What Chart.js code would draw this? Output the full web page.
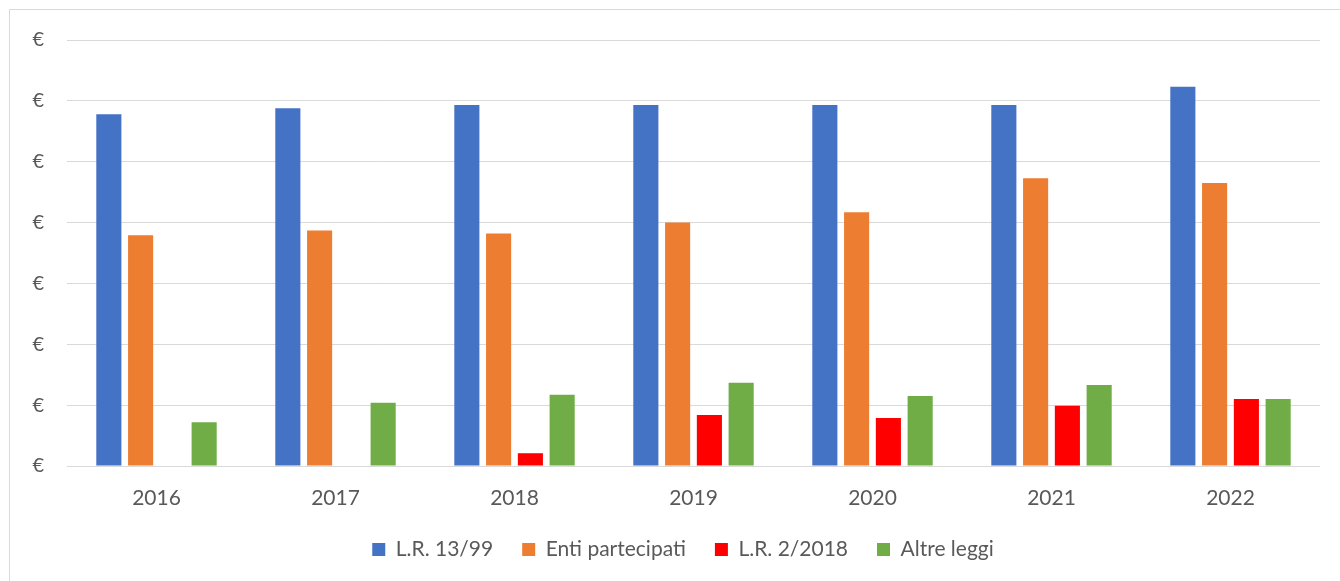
<!DOCTYPE html>
<html><head><meta charset="utf-8">
<script src="https://cdn.jsdelivr.net/npm/chart.js@4/dist/chart.umd.min.js"></script>
<style>html,body{margin:0;padding:0;background:#fff;}#wrap{position:relative;width:1340px;height:581px;}</style>
</head><body><div id="wrap"><canvas id="c" width="1340" height="581"></canvas></div>
<script>
const categories = ['2016','2017','2018','2019','2020','2021','2022'];
const lr1399 = [5.78, 5.88, 5.93, 5.93, 5.93, 5.93, 6.23];
const entiPartecipati = [3.79, 3.87, 3.82, 4.00, 4.17, 4.73, 4.65];
const lr22018 = [null, null, 0.21, 0.84, 0.79, 0.99, 1.10];
const altreLeggi = [0.72, 1.04, 1.17, 1.37, 1.15, 1.33, 1.10];
const yTicks = [0,1,2,3,4,5,6,7];
const tickLabel = '€';

const FONT = 'Lato, "Open Sans", sans-serif';
const TXT = '#595959';

const borderPlugin = {
  id: 'frame',
  beforeDraw(chart) {
    const ctx = chart.ctx;
    ctx.save();
    ctx.fillStyle = '#fff';
    ctx.fillRect(0,0,chart.width,chart.height);
    ctx.strokeStyle = '#d9d9d9';
    ctx.lineWidth = 1;
    ctx.beginPath();
    ctx.moveTo(9.5, 600); ctx.lineTo(9.5, 9.5); ctx.lineTo(1400, 9.5);
    ctx.stroke();
    ctx.restore();
  }
};

const legendShift = {
  id: 'legendShift',
  afterLayout(chart) {
    if (chart.legend) { chart.legend.left += 23; chart.legend.right += 23; }
  }
};

const mk = (label, data, color) => ({label, data, backgroundColor: color, borderColor: color, borderWidth: 0,
  categoryPercentage: 0.71, barPercentage: 0.79});

new Chart(document.getElementById('c'), {
  type: 'bar',
  data: {
    labels: categories,
    datasets: [
      mk('L.R. 13/99', lr1399, '#4472C4'),
      mk('Enti partecipati', entiPartecipati, '#ED7D31'),
      mk('L.R. 2/2018', lr22018, '#FF0000'),
      mk('Altre leggi', altreLeggi, '#70AD47')
    ]
  },
  options: {
    responsive: false,
    animation: false,
    devicePixelRatio: 1,
    layout: {padding: {top: 40, right: 20, left: 0, bottom: 11}},
    plugins: {
      tooltip: {enabled: false},
      legend: {
        position: 'bottom',
        labels: {boxWidth: 13, boxHeight: 13, padding: 29, color: TXT, font: {family: FONT, size: 21}}
      }
    },
    scales: {
      x: {
        afterFit(scale){ scale.height = 44; },
        grid: {display: false, drawTicks: false},
        border: {display: false},
        ticks: {color: TXT, font: {family: FONT, size: 21}, padding: 20}
      },
      y: {
        min: 0, max: 7,
        afterFit(scale){ scale.width = 67; },
        afterBuildTicks(scale){ scale.ticks = yTicks.map(v => ({value: v})); },
        grid: {color: '#d9d9d9', lineWidth: 1, drawTicks: false},
        border: {display: false},
        ticks: {color: TXT, font: {family: FONT, size: 20}, padding: 23, callback: () => tickLabel}
      }
    }
  },
  plugins: [borderPlugin, legendShift]
});
</script></body></html>
